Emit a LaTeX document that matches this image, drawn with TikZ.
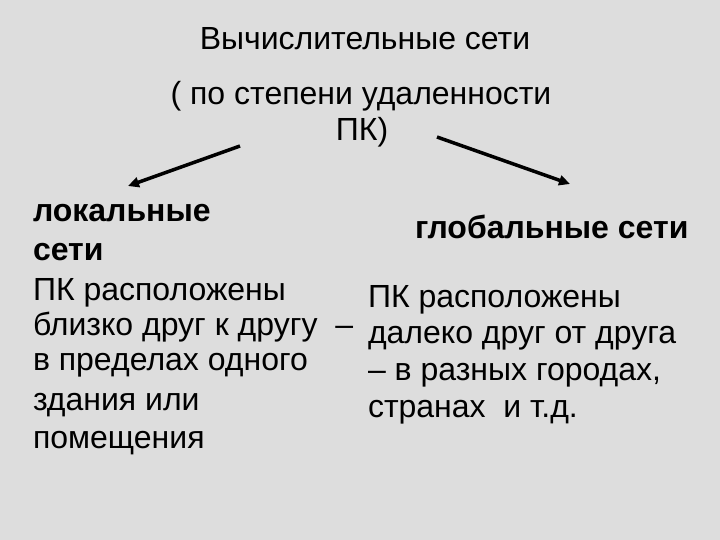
\documentclass[tikz,border=0pt]{standalone}
\usepackage{fontspec}
\setmainfont{Liberation Sans}
\usetikzlibrary{arrows.meta}
\definecolor{bg}{RGB}{221,221,221}
\tikzset{
  txt/.style={inner sep=0pt, outer sep=0pt, anchor=base west, font=\fontsize{32}{38}\selectfont},
  ttl/.style={inner sep=0pt, outer sep=0pt, anchor=base, font=\fontsize{32}{38}\selectfont},
  btxt/.style={txt, font=\fontsize{32}{38}\selectfont\bfseries},
  arr/.style={line width=3.5pt, -{Triangle[length=11pt,width=10pt]}, shorten >=0pt}
}
\begin{document}
\begin{tikzpicture}[x=1pt,y=-1pt]
\fill[bg] (0,0) rectangle (720,540);
\useasboundingbox (0,0) rectangle (720,540);
% title
\node[ttl] (t1) at (365,50) {Вычислительные сети};
\node[ttl] (t2) at (361,105) {( по степени удаленности};
\node[ttl] (t3) at (362,141) {ПК)};
% arrows
\coordinate (la) at (240,146);
\coordinate (lb) at (128,186);
\coordinate (ra) at (437,137);
\coordinate (rb) at (570,184);
\draw[arr] (la) -- (lb);
\draw[arr] (ra) -- (rb);
% left column
\node[btxt] (l1) at (33,222) {локальные};
\node[btxt] (l2) at (33,260) {сети};
\node[txt] (l3) at (33,300) {ПК расположены};
\node[txt] (l4) at (33,335) {близко друг к другу\ \ –};
\node[txt] (l5) at (33,370) {в пределах одного};
\node[txt] (l6) at (33,410) {здания или};
\node[txt] (l7) at (33,448) {помещения};
% right column
\node[btxt] (r1) at (415,238) {глобальные сети};
\node[txt] (r2) at (368,307) {ПК расположены};
\node[txt] (r3) at (368,343) {далеко друг от друга};
\node[txt] (r4) at (368,380) {– в разных городах,};
\node[txt] (r5) at (368,417) {странах\ \ и т.д.};
\end{tikzpicture}
\end{document}
